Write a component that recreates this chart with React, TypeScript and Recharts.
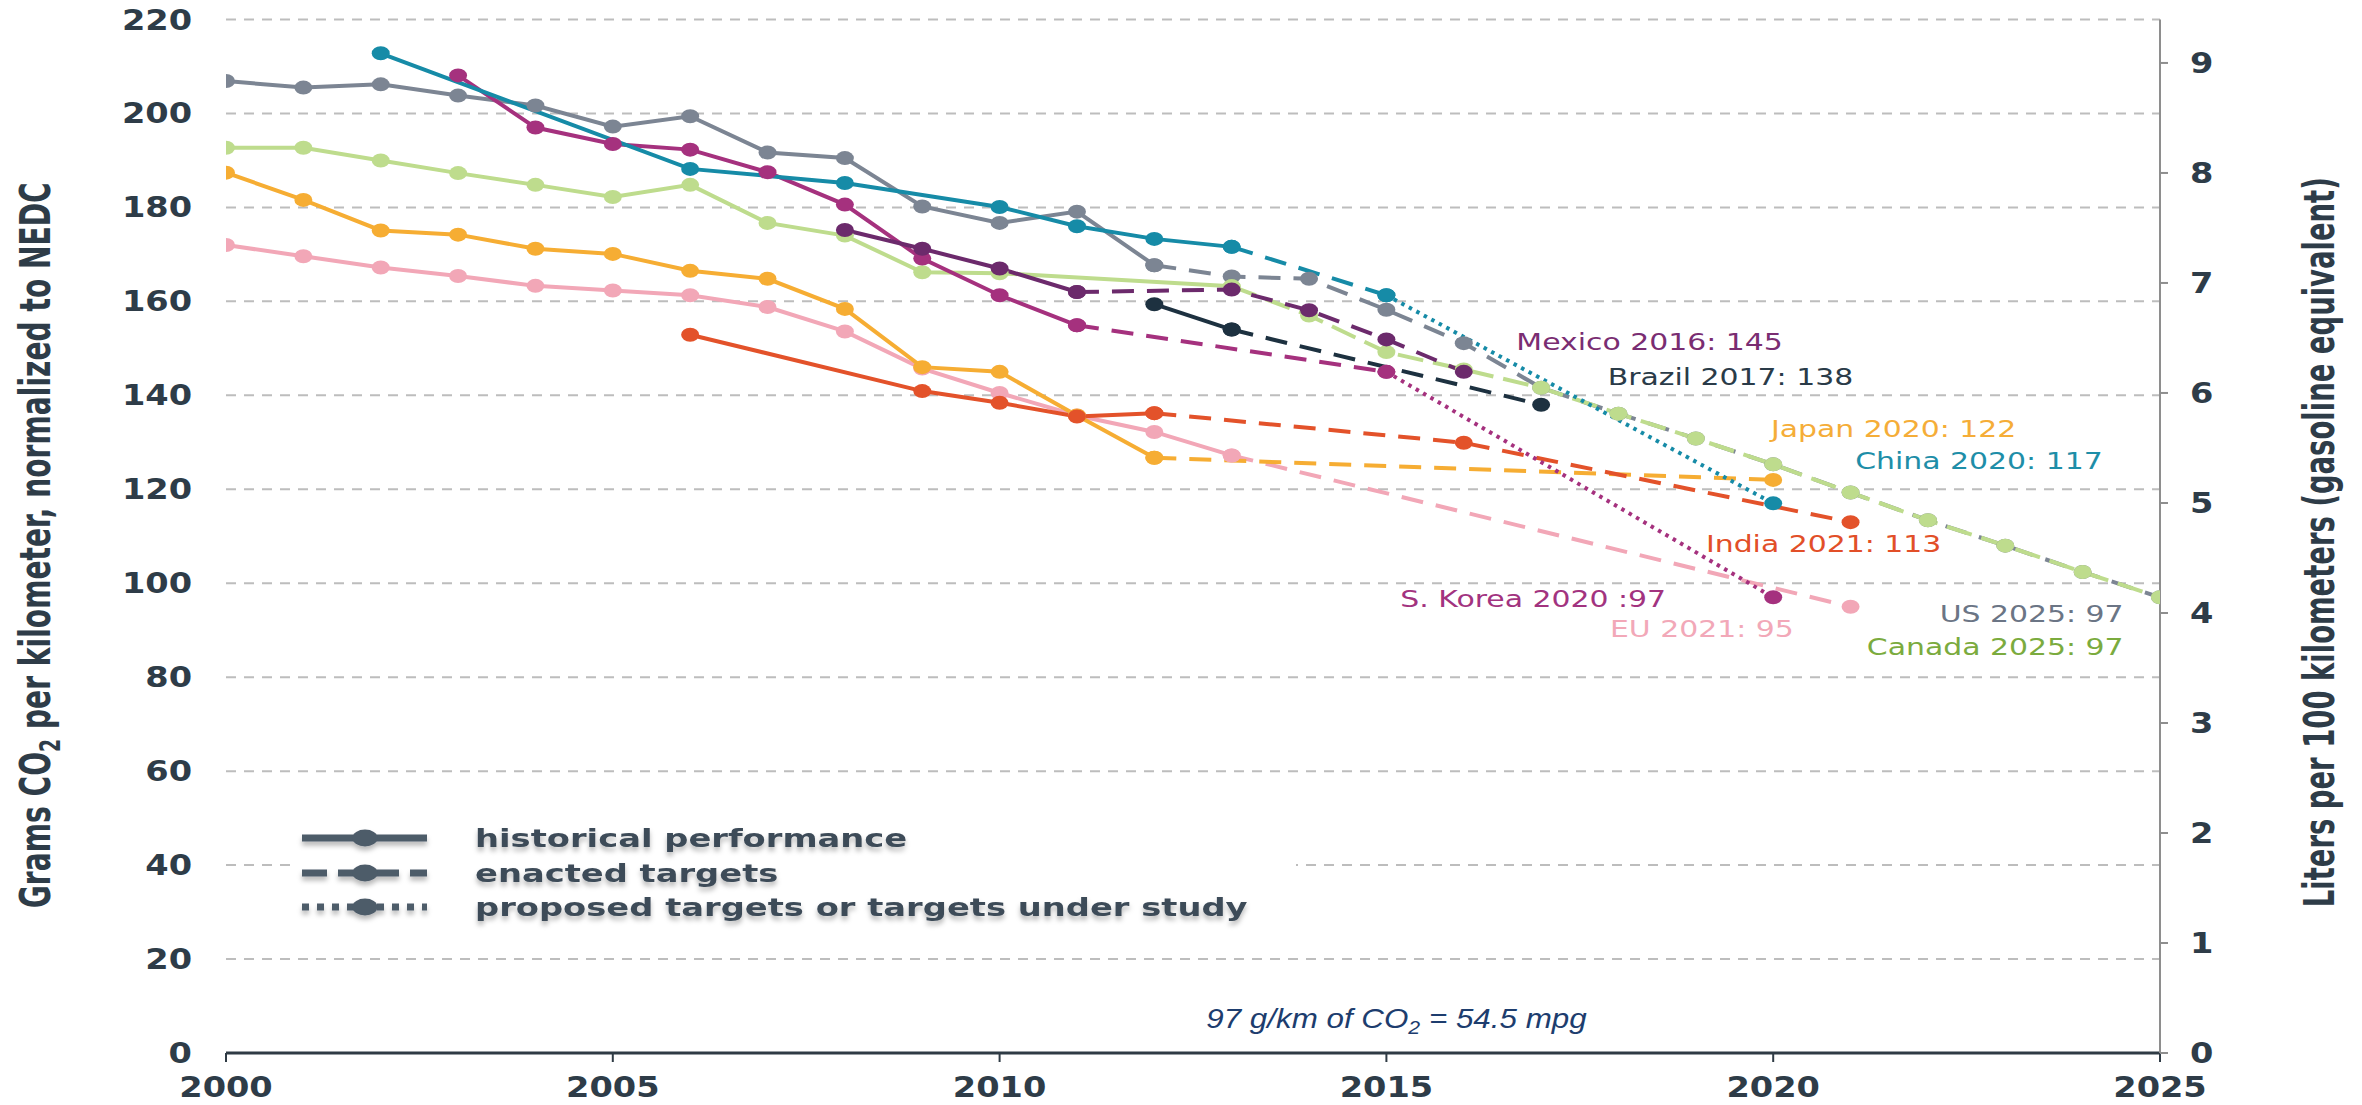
import React from 'react';
import { LineChart, Line, XAxis, YAxis, CartesianGrid, ReferenceDot, Label } from 'recharts';

// ---------- ticks ----------
const yearTicks = [2000, 2005, 2010, 2015, 2020, 2025];
const gramTicks = [0, 20, 40, 60, 80, 100, 120, 140, 160, 180, 200, 220];
const literTicks = [0, 1, 2, 3, 4, 5, 6, 7, 8, 9];

// ---------- data: [year, g CO2/km] ----------
const usHistorical: [number, number][] = [
  [2000, 206.9], [2001, 205.5], [2002, 206.2], [2003, 203.8], [2004, 201.7], [2005, 197.2],
  [2006, 199.4], [2007, 191.7], [2008, 190.5], [2009, 180.2], [2010, 176.7], [2011, 179.1], [2012, 167.7],
];
const usEnacted: [number, number][] = [
  [2012, 167.7], [2013, 165.3], [2014, 164.8], [2015, 158.2], [2016, 151.1], [2017, 141.6],
  [2018, 136.1], [2019, 130.8], [2020, 125.3], [2021, 119.3], [2022, 113.4], [2023, 108], [2024, 102.4], [2025, 97],
];
const canadaHistorical: [number, number][] = [
  [2000, 192.7], [2001, 192.7], [2002, 190], [2003, 187.3], [2004, 184.8], [2005, 182.2],
  [2006, 184.8], [2007, 176.7], [2008, 174], [2009, 166.2], [2010, 166], [2013, 163.2],
];
const canadaEnacted: [number, number][] = [
  [2013, 163.2], [2014, 157], [2015, 149.2], [2016, 145.5], [2017, 141.6], [2018, 136.1],
  [2019, 130.8], [2020, 125.3], [2021, 119.3], [2022, 113.4], [2023, 108], [2024, 102.4], [2025, 97],
];
const chinaHistorical: [number, number][] = [
  [2002, 212.8], [2006, 188.2], [2008, 185.2], [2010, 180.1], [2011, 176], [2012, 173.3], [2013, 171.6],
];
const chinaEnacted: [number, number][] = [[2013, 171.6], [2015, 161.3]];
const chinaProposed: [number, number][] = [[2015, 161.3], [2020, 117]];
const mexicoHistorical: [number, number][] = [[2008, 175.2], [2009, 171.2], [2010, 167], [2011, 162]];
const mexicoEnacted: [number, number][] = [[2011, 162], [2013, 162.5], [2014, 158.1], [2015, 151.9], [2016, 145]];
const koreaHistorical: [number, number][] = [
  [2003, 208.1], [2004, 197], [2005, 193.5], [2006, 192.3], [2007, 187.5], [2008, 180.6],
  [2009, 169.1], [2010, 161.3], [2011, 154.9],
];
const koreaEnacted: [number, number][] = [[2011, 154.9], [2015, 145]];
const koreaProposed: [number, number][] = [[2015, 145], [2020, 97]];
const brazilHistorical: [number, number][] = [[2012, 159.4], [2013, 154]];
const brazilEnacted: [number, number][] = [[2013, 154], [2017, 138]];
const japanHistorical: [number, number][] = [
  [2000, 187.4], [2001, 181.6], [2002, 175.1], [2003, 174.2], [2004, 171.2], [2005, 170.1],
  [2006, 166.5], [2007, 164.8], [2008, 158.4], [2009, 146], [2010, 145], [2011, 135.7], [2012, 126.7],
];
const japanEnacted: [number, number][] = [[2012, 126.7], [2020, 122]];
const euHistorical: [number, number][] = [
  [2000, 172], [2001, 169.6], [2002, 167.2], [2003, 165.4], [2004, 163.3], [2005, 162.3],
  [2006, 161.3], [2007, 158.8], [2008, 153.6], [2009, 145.7], [2010, 140.5], [2011, 135.7],
  [2012, 132.2], [2013, 127.2],
];
const euEnacted: [number, number][] = [[2013, 127.2], [2021, 95]];
const indiaHistorical: [number, number][] = [[2006, 152.9], [2009, 140.9], [2010, 138.4], [2011, 135.5], [2012, 136.2]];
const indiaEnacted: [number, number][] = [[2012, 136.2], [2016, 129.9], [2021, 113]];

// ---------- end labels (text, anchor year, anchor value) ----------
const endLabels: { text: string; year: number; value: number; anchor: string; color: string }[] = [
  { text: 'Mexico 2016: 145', year: 2016.68, value: 149.6, anchor: 'start', color: '#7a2d72' },
  { text: 'Brazil 2017: 138', year: 2017.86, value: 142.2, anchor: 'start', color: '#2a3b48' },
  { text: 'Japan 2020: 122', year: 2019.97, value: 131.1, anchor: 'start', color: '#f5ad38' },
  { text: 'China 2020: 117', year: 2021.06, value: 124.3, anchor: 'start', color: '#1e8ea8' },
  { text: 'India 2021: 113', year: 2019.13, value: 106.6, anchor: 'start', color: '#e24f28' },
  { text: 'S. Korea 2020 :97', year: 2015.18, value: 94.9, anchor: 'start', color: '#a2337f' },
  { text: 'EU 2021: 95', year: 2017.89, value: 88.5, anchor: 'start', color: '#f2a8b8' },
  { text: 'US 2025: 97', year: 2024.53, value: 91.7, anchor: 'end', color: '#6b7585' },
  { text: 'Canada 2025: 97', year: 2024.53, value: 84.7, anchor: 'end', color: '#7bab3e' },
];

const C = {
  us: '#7c8593', canada: '#bedc8d', china: '#168ba7', mexico: '#6c2a6c', korea: '#a5317e',
  brazil: '#1d3140', japan: '#f6ad33', eu: '#f2a7b7', india: '#e3522a',
};
const ENACTED = '22 13';
const PROPOSED = '3.5 5';

const seriesList = [
  { key: 'usH', pts: usHistorical, color: C.us, dash: undefined },
  { key: 'usE', pts: usEnacted, color: C.us, dash: ENACTED },
  { key: 'caH', pts: canadaHistorical, color: C.canada, dash: undefined },
  { key: 'caE', pts: canadaEnacted, color: C.canada, dash: '26 10' },
  { key: 'euH', pts: euHistorical, color: C.eu, dash: undefined },
  { key: 'euE', pts: euEnacted, color: C.eu, dash: ENACTED },
  { key: 'jpH', pts: japanHistorical, color: C.japan, dash: undefined },
  { key: 'jpE', pts: japanEnacted, color: C.japan, dash: ENACTED },
  { key: 'inH', pts: indiaHistorical, color: C.india, dash: undefined },
  { key: 'inE', pts: indiaEnacted, color: C.india, dash: ENACTED },
  { key: 'brH', pts: brazilHistorical, color: C.brazil, dash: undefined },
  { key: 'brE', pts: brazilEnacted, color: C.brazil, dash: ENACTED },
  { key: 'krH', pts: koreaHistorical, color: C.korea, dash: undefined },
  { key: 'krE', pts: koreaEnacted, color: C.korea, dash: ENACTED },
  { key: 'krP', pts: koreaProposed, color: C.korea, dash: PROPOSED },
  { key: 'mxH', pts: mexicoHistorical, color: C.mexico, dash: undefined },
  { key: 'mxE', pts: mexicoEnacted, color: C.mexico, dash: ENACTED },
  { key: 'cnH', pts: chinaHistorical, color: C.china, dash: undefined },
  { key: 'cnE', pts: chinaEnacted, color: C.china, dash: ENACTED },
  { key: 'cnP', pts: chinaProposed, color: C.china, dash: PROPOSED },
];

const toRows = (pts: [number, number][]) => pts.map(([year, v]) => ({ year, v }));

const AXIS_TEXT = '#2e3c48';
const FONT = '"DejaVu Sans", sans-serif';

function StretchText(props: any) {
  const { x, y, sx = 1, anchor = 'start', size, weight = 400, color, family = FONT, italic = false, children } = props;
  return (
    <g transform={`translate(${x},${y}) scale(${sx},1)`}>
      <text x={0} y={0} textAnchor={anchor} fontSize={size} fontWeight={weight} fill={color}
        fontFamily={family} fontStyle={italic ? 'italic' : 'normal'}>
        {children}
      </text>
    </g>
  );
}

const XTick = (p: any) => (
  <StretchText x={p.x} y={p.y + 20} anchor="middle" sx={1.2} size={28} weight={700} color={AXIS_TEXT}>
    {p.payload.value}
  </StretchText>
);
const LeftTick = (p: any) => (
  <StretchText x={p.x} y={p.y + 10} anchor="end" sx={1.2} size={28} weight={700} color={AXIS_TEXT}>
    {p.payload.value}
  </StretchText>
);
const RightTick = (p: any) => (
  <StretchText x={p.x} y={p.y + 10} anchor="start" sx={1.2} size={28} weight={700} color={AXIS_TEXT}>
    {p.payload.value}
  </StretchText>
);

const LeftTitle = (p: any) => {
  const vb = p.viewBox || { x: 0, y: 0, height: 0 };
  const cx = vb.x + 50;
  const cy = vb.y + vb.height / 2 + 9;
  return (
    <g transform={`translate(${cx},${cy}) rotate(-90) scale(1,1.6)`}>
      <text x={0} y={0} textAnchor="middle" fontSize={27} fontWeight={700} fill={AXIS_TEXT} fontFamily={FONT}
        textLength={726} lengthAdjust="spacingAndGlyphs">
        Grams CO<tspan dy={6} fontSize={18}>2</tspan><tspan dy={-6}> per kilometer, normalized to NEDC</tspan>
      </text>
    </g>
  );
};
const RightTitle = (p: any) => {
  const vb = p.viewBox || { x: 0, y: 0, height: 0 };
  const cx = vb.x + 174;
  const cy = vb.y + vb.height / 2 + 6;
  return (
    <g transform={`translate(${cx},${cy}) rotate(-90) scale(1,1.6)`}>
      <text x={0} y={0} textAnchor="middle" fontSize={27} fontWeight={700} fill={AXIS_TEXT} fontFamily={FONT}
        textLength={730} lengthAdjust="spacingAndGlyphs">
        Liters per 100 kilometers (gasoline equivalent)
      </text>
    </g>
  );
};

const makeDot = (color: string) => (props: any) => {
  const { cx, cy, index } = props;
  if (cx == null || cy == null) return <g key={`e${index}`} />;
  return <ellipse key={`d${index}`} cx={cx} cy={cy} rx={9} ry={7} fill={color} />;
};

const legendRows = [
  { label: 'historical performance', dash: undefined },
  { label: 'enacted targets', dash: '25 11' },
  { label: 'proposed targets or targets under study', dash: '7 8' },
];

function LegendOverlay() {
  const rowY = [838, 873, 907];
  return (
    <svg width={2362} height={1105} style={{ position: 'absolute', left: 0, top: 0, pointerEvents: 'none' }}>
      <defs>
        <filter id="legShadow" x="-5%" y="-30%" width="110%" height="160%">
          <feDropShadow dx={0} dy={4} stdDeviation={2.5} floodColor="#000" floodOpacity={0.28} />
        </filter>
      </defs>
      <rect x={294} y={812} width={1002} height={120} fill="#ffffff" />
      <g filter="url(#legShadow)">
        {legendRows.map((r, i) => (
          <g key={r.label}>
            <line x1={302} x2={427} y1={rowY[i]} y2={rowY[i]} stroke="#4d5b69" strokeWidth={7} strokeDasharray={r.dash} />
            <ellipse cx={365} cy={rowY[i]} rx={12.5} ry={8.5} fill="#4d5b69" />
            <StretchText x={475} y={rowY[i] + 9} sx={1.35} size={25} weight={700} color="#3e4c59">{r.label}</StretchText>
          </g>
        ))}
      </g>
    </svg>
  );
}

export default function App() {
  return (
    <div style={{ position: 'absolute', left: 0, top: 0, width: 2362, height: 1105, background: '#fff' }}>
      <LineChart width={2362} height={1105} margin={{ top: 19.5, right: 102, bottom: 0, left: 0 }}>
        <CartesianGrid yAxisId="left" vertical={false} stroke="#bdbdbd" strokeWidth={2} strokeDasharray="10 8" />
        <XAxis dataKey="year" type="number" domain={[2000, 2025]} ticks={yearTicks} allowDataOverflow
          height={52} axisLine={{ stroke: '#2f3b45', strokeWidth: 3 }} tickLine={{ stroke: '#2f3b45', strokeWidth: 2 }}
          tickSize={9} tickMargin={15} tick={<XTick />} interval={0} />
        <YAxis yAxisId="left" type="number" domain={[0, 220]} ticks={gramTicks} width={226} allowDataOverflow
          axisLine={false} tickLine={false} tickSize={0} tickMargin={34} tick={<LeftTick />} interval={0}>
          <Label content={<LeftTitle />} />
        </YAxis>
        <YAxis yAxisId="right" orientation="right" type="number" domain={[0, 9.395]} ticks={literTicks} width={100}
          allowDataOverflow
          axisLine={{ stroke: '#8e8e8e', strokeWidth: 2 }} tickLine={{ stroke: '#8e8e8e', strokeWidth: 2 }}
          tickSize={8} tickMargin={22} tick={<RightTick />} interval={0}>
          <Label content={<RightTitle />} />
        </YAxis>
        {seriesList.map((s) => (
          <Line key={s.key} yAxisId="left" data={toRows(s.pts)} dataKey="v" type="linear" stroke={s.color}
            strokeWidth={4} strokeDasharray={s.dash} dot={makeDot(s.color)} activeDot={false}
            isAnimationActive={false} connectNulls legendType="none" />
        ))}
        {endLabels.map((a) => (
          <ReferenceDot key={a.text} yAxisId="left" x={a.year} y={a.value} r={0} ifOverflow="visible"
            shape={(p: any) => (
              <StretchText x={p.cx} y={p.cy} anchor={a.anchor} sx={1.3} size={23} color={a.color}>{a.text}</StretchText>
            )} />
        ))}
        <ReferenceDot yAxisId="left" x={2015.13} y={5.3} r={0} ifOverflow="visible"
          shape={(p: any) => (
            <StretchText x={p.cx} y={p.cy} anchor="middle" sx={1.12} size={28} italic color="#1d3d6e"
              family='"Liberation Sans", Arial, sans-serif'>
              97 g/km of CO<tspan dy={6} fontSize={19}>2</tspan><tspan dy={-6}> = 54.5 mpg</tspan>
            </StretchText>
          )} />
      </LineChart>
      <LegendOverlay />
    </div>
  );
}
